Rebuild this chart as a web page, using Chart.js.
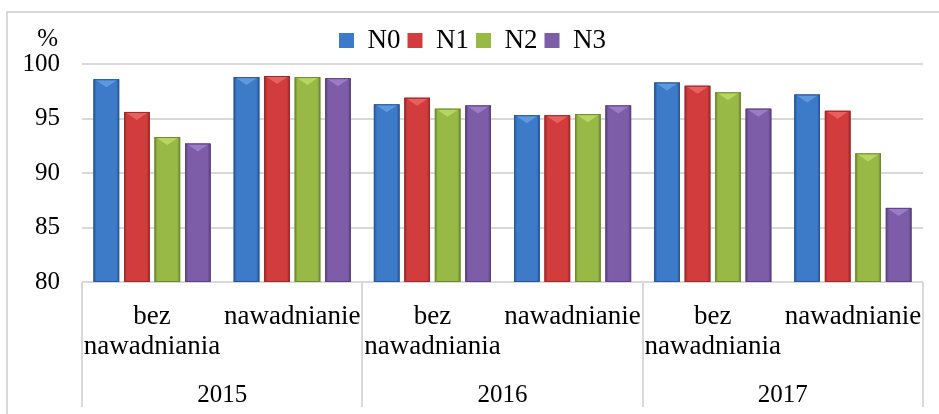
<!DOCTYPE html>
<html>
<head>
<meta charset="utf-8">
<script src="https://cdn.jsdelivr.net/npm/chart.js@4.4.1/dist/chart.umd.min.js"></script>
<style>
html, body { margin: 0; padding: 0; background: #fff; }
#wrap { width: 939px; height: 414px; }
</style>
</head>
<body>
<div id="wrap"><canvas id="chart_content" width="939" height="414"></canvas></div>
<script>
var canvasElement = document.getElementById("chart_content");

// data
const categories = [["bez", "nawadniania"], "nawadnianie",
	["bez", "nawadniania"], "nawadnianie",
	["bez", "nawadniania"], "nawadnianie"];
const years = ["2015", "2016", "2017"];
const N0 = [98.6, 98.8, 96.3, 95.3, 98.3, 97.2];
const N1 = [95.6, 98.9, 96.9, 95.3, 98.0, 95.7];
const N2 = [93.3, 98.8, 95.9, 95.4, 97.4, 91.8];
const N3 = [92.7, 98.7, 96.2, 96.2, 95.9, 86.8];
const yTicks = [80, 85, 90, 95, 100];

// base, edge, highlight
const colors = {
	N0: ["#3d7bc9", "#285796", "#5e98de"],
	N1: ["#d33c3c", "#9c2a2a", "#e86060"],
	N2: ["#98b946", "#6d8a31", "#b6d660"],
	N3: ["#7d5ca8", "#5a417f", "#9a7bc6"]
};

const serif = "'Liberation Serif', 'Times New Roman', serif";

function ds(label, data) {
	return {
		label: label,
		data: data,
		backgroundColor: colors[label][0],
		borderWidth: 0,
		categoryPercentage: 0.87,
		barPercentage: 0.84
	};
}

// bevel look of the bars, painted over each bar element
const bevel = {
	id: "bevel",
	afterDatasetsDraw(chart) {
		const ctx = chart.ctx;
		const a = chart.chartArea;
		ctx.save();
		ctx.beginPath();
		ctx.rect(a.left, a.top, a.right - a.left, a.bottom - a.top);
		ctx.clip();
		chart.data.datasets.forEach(function(d, i) {
			const c = colors[d.label];
			chart.getDatasetMeta(i).data.forEach(function(bar) {
				const l = bar.x - bar.width / 2, r = bar.x + bar.width / 2;
				const b = Math.min(bar.base, a.bottom);
				const g = ctx.createLinearGradient(l, 0, r, 0);
				g.addColorStop(0, c[1]);
				g.addColorStop(0.12, c[0]);
				g.addColorStop(0.5, c[0]);
				g.addColorStop(0.88, c[0]);
				g.addColorStop(1, c[1]);
				ctx.fillStyle = g;
				ctx.fillRect(l, bar.y, bar.width, b - bar.y);
				ctx.fillStyle = c[2];
				ctx.beginPath();
				ctx.moveTo(l + 1, bar.y);
				ctx.lineTo(r - 1, bar.y);
				ctx.lineTo(bar.x, bar.y + 8);
				ctx.closePath();
				ctx.fill();
				ctx.strokeStyle = c[1];
				ctx.lineWidth = 1;
				ctx.strokeRect(l + 0.5, bar.y + 0.5, bar.width - 1, b - bar.y - 1);
			});
		});
		ctx.restore();
	}
};

// year separators, outer frame and the % label
const frame = {
	id: "frame",
	afterDraw(chart) {
		const ctx = chart.ctx;
		const a = chart.chartArea;
		const yr = chart.scales.x2;
		ctx.save();
		ctx.strokeStyle = "#d9d9d9";
		ctx.lineWidth = 2;
		const step = (a.right - a.left) / years.length;
		for (let k = 0; k <= years.length; k++) {
			const x = Math.round(a.left + k * step);
			ctx.beginPath();
			ctx.moveTo(x, a.bottom);
			ctx.lineTo(x, yr.bottom - 1);
			ctx.stroke();
		}
		ctx.beginPath();
		ctx.moveTo(7, 414);
		ctx.lineTo(7, 12);
		ctx.lineTo(939, 12);
		ctx.stroke();
		ctx.fillStyle = "#000";
		ctx.font = "25px " + serif;
		ctx.textAlign = "right";
		ctx.textBaseline = "middle";
		ctx.fillText("%", 58, 39);
		ctx.restore();
	}
};

function drawChart() {
	var config = {
		type: "bar",
		data: {
			labels: categories,
			datasets: [ds("N0", N0), ds("N1", N1), ds("N2", N2), ds("N3", N3)]
		},
		options: {
			responsive: false,
			animation: false,
			devicePixelRatio: 1,
			layout: { padding: { left: 22, right: 16, top: 20, bottom: 6 } },
			plugins: {
				legend: {
					position: "top",
					labels: {
						boxWidth: 15,
						boxHeight: 15,
						color: "#000",
						padding: 7,
						font: { family: serif, size: 27 }
					}
				},
				tooltip: { enabled: false }
			},
			scales: {
				y: {
					min: 80,
					max: 100,
					afterBuildTicks: function(s) { s.ticks = yTicks.map(v => ({ value: v })); },
					afterFit: function(s) { s.width = 60; },
					ticks: { color: "#000", padding: 22, font: { family: serif, size: 25 } },
					grid: { color: "#d9d9d9", lineWidth: 2, drawTicks: false },
					border: { display: false }
				},
				x: {
					grid: { display: false, drawTicks: false },
					border: { display: false },
					afterFit: function(s) { s.height = 82; s.paddingLeft = 0; s.paddingRight = 0; },
					ticks: {
						color: "#000",
						padding: 20,
						maxRotation: 0,
						autoSkip: false,
						font: { family: serif, size: 27, lineHeight: 1.12 }
					}
				},
				x2: {
					type: "category",
					labels: years,
					position: "bottom",
					offset: true,
					grid: { display: false, drawTicks: false },
					border: { display: false },
					afterFit: function(s) { s.height = 44; s.paddingLeft = 0; s.paddingRight = 0; },
					ticks: {
						color: "#000",
						padding: 16,
						font: { family: serif, size: 25, lineHeight: 1.2 }
					}
				}
			}
		},
		plugins: [bevel, frame]
	};
	var content_chart = new Chart(canvasElement, config);
}

window.onload = function() {
	drawChart();
};
</script>
</body>
</html>
